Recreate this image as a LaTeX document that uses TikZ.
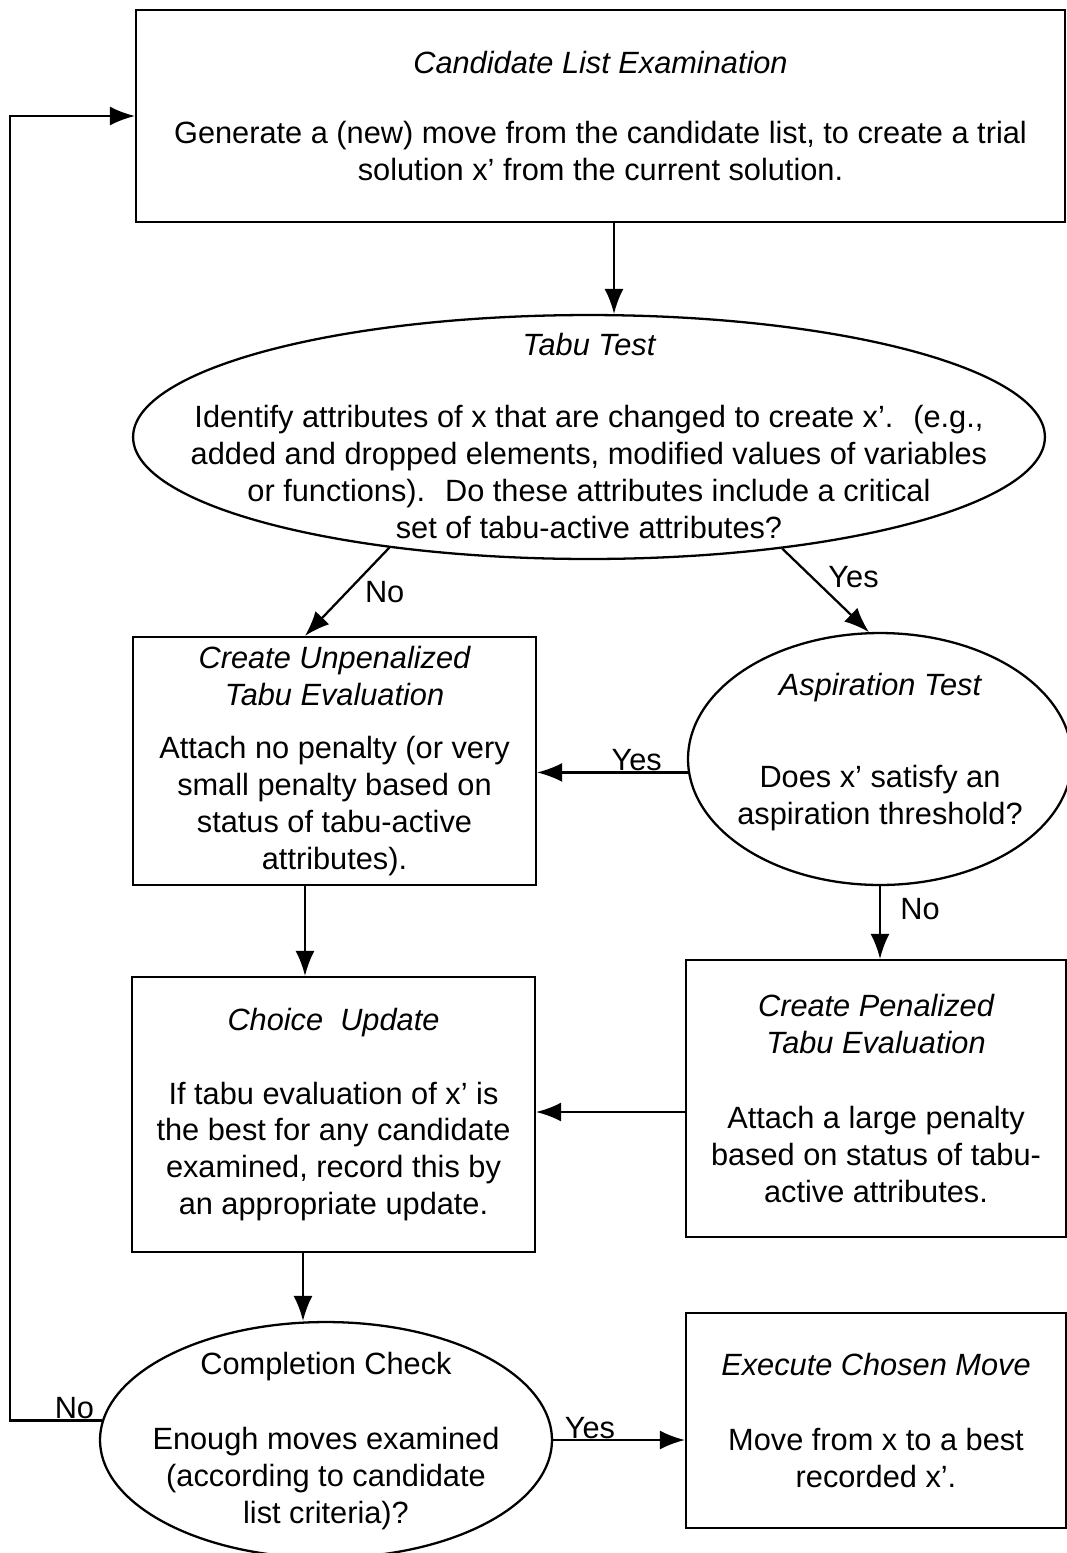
\documentclass[tikz,border=0pt]{standalone}
\usepackage{fontspec}
\setmainfont{Liberation Sans}
\usetikzlibrary{shapes.geometric,arrows.meta,calc}
\tikzset{
  every node/.style = {font=\fontsize{17.5}{21}\selectfont},
  box/.style = {rectangle, draw, line width=1.3pt, align=center,
                inner sep=0pt},
  oval/.style = {ellipse, draw, line width=1.3pt, inner sep=0pt},
  txt/.style = {align=center, inner sep=0pt},
  arr/.style = {line width=1.3pt, -{Latex[length=0.5cm,width=0.38cm]}},
  lbl/.style = {inner sep=1pt}
}

\begin{document}
\begin{tikzpicture}[x=0.02cm, y=-0.02cm]
	\useasboundingbox (0,0) rectangle (1067,1553);
	\clip (0,0) rectangle (1067,1553);

	% Boxes
	\node[box, minimum width=18.58cm, minimum height=4.24cm] (cand) at (600.5,116)
		{\itshape Candidate List Examination\\[0.66cm]
		 Generate a (new) move from the candidate list, to create a trial\\
		 solution x' from the current solution.};
	\node[box, minimum width=8.06cm, minimum height=4.96cm] (unpen) at (334.5,761)
		{\itshape Create Unpenalized\\
		 \itshape Tabu Evaluation\\[0.32cm]
		 Attach no penalty (or very\\
		 small penalty based on\\
		 status of tabu-active\\
		 attributes).};
	\node[box, minimum width=7.6cm, minimum height=5.54cm] (pen) at (876,1098.5)
		{\itshape Create Penalized\\
		 \itshape Tabu Evaluation\\[0.76cm]
		 Attach a large penalty\\
		 based on status of tabu-\\
		 active attributes.};
	\node[box, minimum width=8.06cm, minimum height=5.5cm] (choice) at (333.5,1114.5)
		{\itshape Choice~ Update\\[0.74cm]
		 If tabu evaluation of x' is\\
		 the best for any candidate\\
		 examined, record this by\\
		 an appropriate update.};
	\node[box, minimum width=7.6cm, minimum height=4.3cm] (exec) at (876,1420.5)
		{\itshape Execute Chosen Move\\[0.76cm]
		 Move from x to a best\\
		 recorded x'.};

	% Ellipses
	\node[oval, minimum width=18.24cm, minimum height=4.88cm] (tabu) at (589,437) {};
	\node[txt] (tabu-txt) at (589,436)
		{\itshape Tabu Test\\[0.7cm]
		 Identify attributes of x that are changed to create x'.~ (e.g.,\\
		 added and dropped elements, modified values of variables\\
		 or functions).~ Do these attributes include a critical\\
		 set of tabu-active attributes?};
	\node[oval, minimum width=7.68cm, minimum height=5.04cm] (aspir) at (880,759) {};
	\node[txt] (aspir-txt) at (880,752)
		{\itshape Aspiration Test\\[1.1cm]
		 Does x' satisfy an\\
		 aspiration threshold?};
	\node[oval, minimum width=9.04cm, minimum height=4.72cm] (compl) at (326,1440) {};
	\node[txt] (compl-txt) at (326,1441)
		{Completion Check\\[0.76cm]
		 Enough moves examined\\
		 (according to candidate\\
		 list criteria)?};

	\coordinate (loop) at (10,0);
	\coordinate (a1) at ($(cand.south)+(13.5,0)$);
	\coordinate (a2) at ($(unpen.north)+(-29.5,0)$);
	\coordinate (a3) at ($(pen.west)+(0,13.5)$);
	\coordinate (a4) at ($(unpen.south)+(-29.5,0)$);
	\coordinate (a5) at ($(choice.south)+(-30.5,0)$);

	% Arrows
	\draw[arr] (a1) -- (a1 |- tabu.north);
	\draw[arr] (tabu.209.5) -- node[lbl, midway, anchor=west, xshift=0.3cm] {No} (a2);
	\draw[arr] (tabu.330.5) -- node[lbl, midway, anchor=south west] {Yes} (aspir.95);
	\draw[arr] (aspir.184) -- node[lbl, pos=0.34, anchor=base, yshift=1pt] {Yes} (aspir.184 -| unpen.east);
	\draw[arr] (aspir.south) -- node[lbl, pos=0.32, anchor=west, xshift=0.35cm] {No} (aspir.south |- pen.north);
	\draw[arr] (a3) -- (a3 -| choice.east);
	\draw[arr] (a4) -- (a4 |- choice.north);
	\draw[arr] (a5) -- (a5 |- compl.north);
	\draw[arr] (compl.east) -- node[lbl, pos=0.28, anchor=base, yshift=1pt] {Yes} (compl.east -| exec.west);
	\draw[arr] (compl.175) -- node[lbl, pos=0.3, anchor=base, yshift=1pt] {No} (compl.175 -| loop)
		-- (loop |- cand.west) -- (cand.west);
\end{tikzpicture}
\end{document}
